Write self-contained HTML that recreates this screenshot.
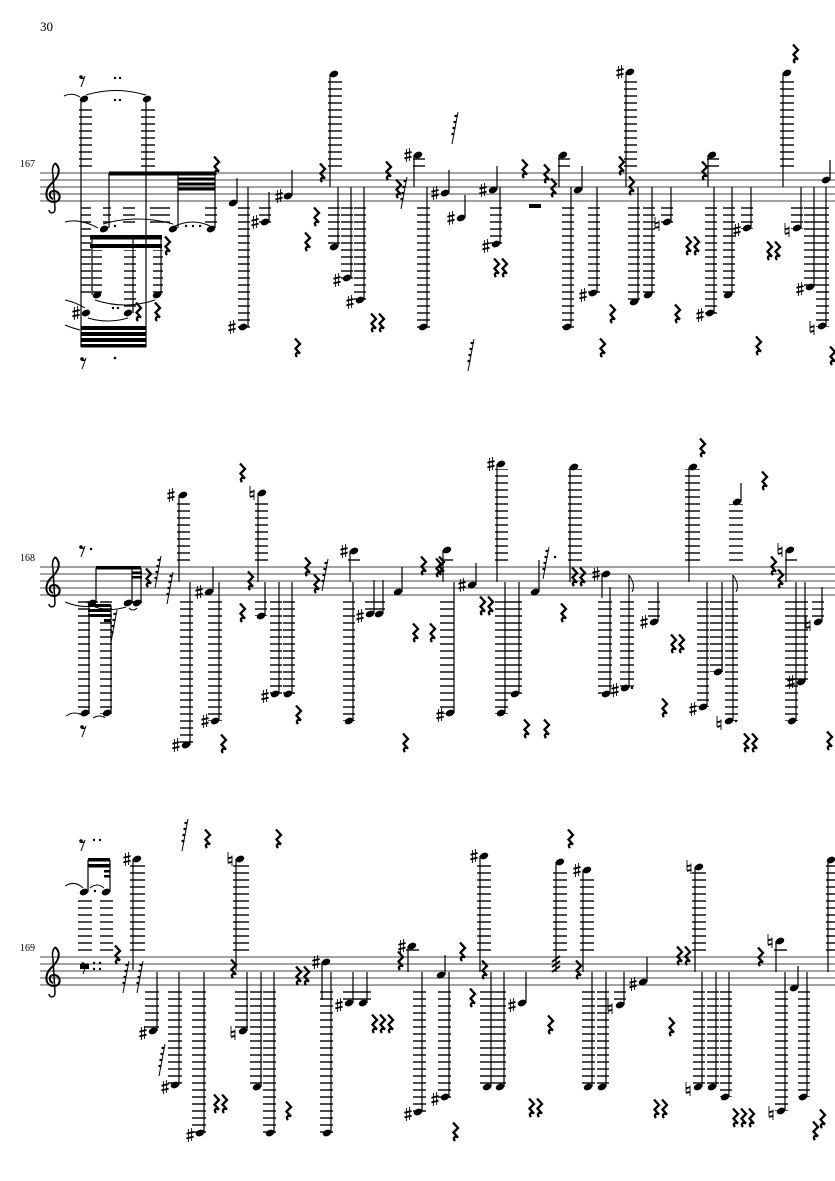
<!DOCTYPE html>
<html><head><meta charset="utf-8"><style>
html,body{margin:0;padding:0;background:#fff;}
svg{display:block;}
text{font-family:"Liberation Serif",serif;fill:#000;}
</style></head><body>
<svg width="835" height="1181" viewBox="0 0 835 1181" xmlns="http://www.w3.org/2000/svg">
<defs>
<pattern id="La" patternUnits="userSpaceOnUse" width="100" height="7" y="5"><rect x="0" y="-0.7" width="100" height="1.4" fill="#000"/><rect x="0" y="6.3" width="100" height="1.4" fill="#000"/></pattern>
<pattern id="Lb" patternUnits="userSpaceOnUse" width="100" height="7" y="0"><rect x="0" y="-0.7" width="100" height="1.4" fill="#000"/><rect x="0" y="6.3" width="100" height="1.4" fill="#000"/></pattern>
<g id="h"><ellipse cx="0" cy="0" rx="4.4" ry="3.1" transform="rotate(-22)" fill="#000"/></g>
<g id="s" stroke="#000" fill="none"><path d="M-1.6,-6V7M1.6,-7V6" stroke-width="0.9"/><path d="M-3.6,-1.2L3.6,-3M-3.6,3.4L3.6,1.6" stroke-width="1.8"/></g>
<g id="n" stroke="#000" fill="none"><path d="M-2,-7V3.5M2,-3.5V7" stroke-width="0.9"/><path d="M-2,-0.6L2,-1.8M-2,4L2,2.8" stroke-width="1.8"/></g>
<g id="r" stroke="#000" fill="none"><path d="M-2,-8.5L3,-3L-1.5,1.5L3,6.5C0,4.5 -2.5,7 0,10" stroke-width="2.3"/></g>
<g id="e" fill="#000"><circle cx="-1" cy="-3" r="1.8"/><path d="M-1,-1.5 Q2,-1 3,-4 L-1,7" stroke="#000" stroke-width="1" fill="none"/></g>
<g id="g" stroke="#000" fill="none"><path d="M3,-16L-3,16" stroke-width="1"/><path d="M2.5,-12h-3M1.5,-6h-3M0.5,0h-3M-0.5,6h-3" stroke-width="2.2"/></g>
<g id="c" stroke="#000" fill="none" stroke-width="2"><path d="M8,-8 C14,-3 13,5 4,13 C-3,20 -2,31 7,31 C15,31 14,20 7,20 C1,20 2,27 6,28"/><path d="M8,-8 C5,-4 5,0 6,4 L8,38 C8,43 2,43 2,39" stroke-width="1.5"/></g>
</defs>

<text x="40" y="31" font-size="13">30</text>
<text x="20" y="167" font-size="10">167</text>
<text x="20" y="561" font-size="10">168</text>
<text x="20" y="951" font-size="10">169</text>

<!-- staves -->
<g stroke="#6a6a6a" stroke-width="1.2">
<path d="M40,173H835M40,180H835M40,187H835M40,194H835M40,201H835"/>
<path d="M40,567H835M40,574H835M40,581H835M40,588H835M40,595H835"/>
<path d="M40,957H835M40,964H835M40,971H835M40,978H835M40,985H835"/>
</g>
<use href="#c" x="47" y="171"/><use href="#c" x="47" y="565"/><use href="#c" x="47" y="955"/>

<!-- ============ SYSTEM 1 ============ -->
<g fill="url(#La)">
<rect x="79" y="106" width="13" height="63"/><rect x="141" y="106" width="14" height="63"/>
<rect x="328" y="80" width="14" height="89"/><rect x="624" y="80" width="13" height="89"/><rect x="780" y="80" width="14" height="89"/>
<rect x="81" y="204" width="10" height="94"/><rect x="103" y="204" width="8" height="20"/><rect x="123" y="204" width="12" height="20"/><rect x="150" y="204" width="20" height="20"/><rect x="205" y="204" width="12" height="20"/>
<rect x="92" y="250" width="10" height="44"/><rect x="124" y="250" width="12" height="60"/><rect x="153" y="250" width="10" height="44"/>
<rect x="238" y="204" width="12" height="124"/><rect x="259" y="204" width="12" height="19"/>
<rect x="328" y="204" width="12" height="44"/><rect x="341" y="204" width="12" height="75"/><rect x="354" y="204" width="12" height="97"/>
<rect x="417" y="204" width="13" height="124"/><rect x="490" y="204" width="12" height="41"/>
<rect x="562" y="204" width="12" height="124"/><rect x="588" y="204" width="12" height="90"/>
<rect x="628" y="204" width="12" height="99"/><rect x="643" y="204" width="12" height="92"/><rect x="661" y="204" width="12" height="19"/>
<rect x="705" y="204" width="12" height="110"/><rect x="723" y="204" width="12" height="92"/><rect x="741" y="204" width="12" height="25"/>
<rect x="791" y="204" width="12" height="25"/><rect x="804" y="204" width="12" height="84"/><rect x="816" y="204" width="13" height="123"/>
<rect x="413" y="155" width="12" height="14"/><rect x="558" y="155" width="12" height="14"/><rect x="707" y="155" width="12" height="14"/>
</g>
<g stroke="#000" stroke-width="1.2">
<path d="M81,99V347M146,99V347M109,173V228M178,173V228M215,173V228M92,236V295M133,236V313M161,236V295"/>
<path d="M237,203V178M248,327V187M269,222V192M292,196V170M330,74V187M338,247V187M351,278V187M364,300V187"/>
<path d="M414,155V187M427,327V187M449,193V170M465,218V195M497,190V166M500,244V187M559,155V187M582,190V166M571,327V187M597,293V187"/>
<path d="M626,72V187M638,302V187M652,295V187M671,222V187M708,155V187M714,313V187M732,295V187M751,228V187M783,73V187M801,228V187M814,287V187M826,326V187M830,180V160"/>
</g>
<g fill="#000">
<rect x="109" y="171.5" width="106" height="4"/>
<rect x="178" y="177.5" width="37" height="3"/><rect x="178" y="182.5" width="37" height="3"/><rect x="178" y="187.5" width="37" height="3"/>
<rect x="90" y="235" width="72" height="4.5"/><rect x="90" y="244" width="72" height="4"/>
<rect x="81" y="326" width="65" height="4"/><rect x="81" y="332" width="65" height="4"/><rect x="81" y="338" width="65" height="4"/><rect x="81" y="344" width="65" height="3.5"/>
<rect x="529" y="204" width="12" height="4"/>
<circle cx="115" cy="358" r="1.3"/><circle cx="115" cy="226" r="1.2"/><circle cx="186" cy="226" r="1.2"/><circle cx="193" cy="226" r="1.2"/><circle cx="200" cy="226" r="1.2"/>
<circle cx="115" cy="78" r="1.2"/><circle cx="120" cy="78" r="1.2"/><circle cx="115" cy="100" r="1.2"/><circle cx="120" cy="100" r="1.2"/><circle cx="113" cy="308" r="1.2"/><circle cx="118" cy="308" r="1.2"/>
</g>
<g fill="none" stroke="#000" stroke-width="1">
<path d="M86,95 Q116,86 146,95"/><path d="M64,96 Q72,92 80,97"/><path d="M103,224 Q138,214 173,224"/><path d="M175,226 Q193,218 210,226"/><path d="M65,222 Q80,218 98,228"/>
<path d="M95,300 Q125,310 155,300"/><path d="M88,318 Q108,324 128,318"/><path d="M65,300 Q75,302 85,308"/><path d="M65,325 Q72,328 80,330"/>
</g>
<g>
<use href="#h" x="84" y="99"/><use href="#h" x="147" y="99"/><use href="#h" x="104" y="229"/><use href="#h" x="173" y="229"/><use href="#h" x="211" y="229"/>
<use href="#h" x="97" y="295"/><use href="#h" x="157" y="295"/><use href="#h" x="86" y="313"/><use href="#h" x="128" y="313"/>
<use href="#h" x="233" y="203"/><use href="#h" x="243" y="327"/><use href="#h" x="265" y="222"/><use href="#h" x="288" y="196"/>
<use href="#h" x="334" y="74"/><use href="#h" x="334" y="247"/><use href="#h" x="347" y="278"/><use href="#h" x="360" y="300"/>
<use href="#h" x="418" y="155"/><use href="#h" x="423" y="327"/><use href="#h" x="445" y="193"/><use href="#h" x="461" y="218"/><use href="#h" x="493" y="190"/><use href="#h" x="496" y="244"/>
<use href="#h" x="563" y="155"/><use href="#h" x="578" y="190"/><use href="#h" x="567" y="327"/><use href="#h" x="593" y="293"/>
<use href="#h" x="630" y="72"/><use href="#h" x="634" y="302"/><use href="#h" x="648" y="295"/><use href="#h" x="667" y="222"/>
<use href="#h" x="712" y="155"/><use href="#h" x="710" y="313"/><use href="#h" x="728" y="295"/><use href="#h" x="747" y="228"/>
<use href="#h" x="787" y="73"/><use href="#h" x="797" y="228"/><use href="#h" x="810" y="287"/><use href="#h" x="822" y="326"/><use href="#h" x="826" y="180"/>
<use href="#s" x="76" y="313"/><use href="#s" x="232" y="327"/><use href="#s" x="255" y="222"/><use href="#s" x="279" y="196"/><use href="#s" x="337" y="280"/><use href="#s" x="350" y="302"/>
<use href="#s" x="408" y="155"/><use href="#s" x="435" y="193"/><use href="#s" x="451" y="218"/><use href="#s" x="483" y="190"/><use href="#s" x="486" y="246"/><use href="#s" x="583" y="295"/>
<use href="#s" x="620" y="72"/><use href="#s" x="700" y="315"/><use href="#s" x="737" y="230"/><use href="#s" x="800" y="289"/>
<use href="#n" x="657" y="224"/><use href="#n" x="787" y="230"/><use href="#n" x="812" y="328"/>
<use href="#r" x="216" y="165"/><use href="#r" x="167" y="245"/><use href="#r" x="157" y="311"/><use href="#r" x="138" y="311"/>
<use href="#r" x="322" y="172"/><use href="#r" x="316" y="216"/><use href="#r" x="307" y="241"/><use href="#r" x="297" y="347"/><use href="#r" x="388" y="170"/><use href="#r" x="398" y="188"/>
<use href="#r" x="524" y="168"/><use href="#r" x="546" y="173"/><use href="#r" x="553" y="187"/><use href="#r" x="612" y="313"/><use href="#r" x="602" y="347"/><use href="#r" x="621" y="165"/><use href="#r" x="631" y="185"/>
<use href="#r" x="677" y="313"/><use href="#r" x="704" y="170"/><use href="#r" x="758" y="345"/><use href="#r" x="795" y="53"/><use href="#r" x="832" y="355"/>
<use href="#r" x="373" y="322"/><use href="#r" x="381" y="322"/><use href="#r" x="496" y="267"/><use href="#r" x="504" y="267"/><use href="#r" x="688" y="245"/><use href="#r" x="696" y="245"/><use href="#r" x="769" y="250"/><use href="#r" x="777" y="250"/>
<use href="#e" x="82" y="80"/><use href="#e" x="83" y="362"/>
<use href="#g" x="455" y="128"/><use href="#g" x="471" y="355"/><use href="#g" x="404" y="193"/>
</g>

<!-- ============ SYSTEM 2 ============ -->
<g fill="url(#Lb)">
<rect x="177" y="500" width="13" height="62"/><rect x="255" y="500" width="13" height="62"/><rect x="495" y="469" width="13" height="93"/><rect x="568" y="469" width="14" height="93"/><rect x="685" y="469" width="15" height="93"/><rect x="729" y="504" width="14" height="58"/>
<rect x="348" y="555" width="12" height="7"/><rect x="441" y="555" width="12" height="7"/><rect x="785" y="555" width="12" height="7"/>
<rect x="78" y="598" width="12" height="116"/><rect x="100" y="598" width="12" height="116"/><rect x="86" y="598" width="12" height="7"/><rect x="124" y="598" width="18" height="7"/>
<rect x="180" y="598" width="13" height="147"/><rect x="208" y="598" width="14" height="123"/><rect x="255" y="598" width="12" height="18"/><rect x="270" y="598" width="12" height="96"/><rect x="283" y="598" width="12" height="96"/>
<rect x="343" y="598" width="12" height="123"/><rect x="365" y="598" width="20" height="16"/>
<rect x="440" y="598" width="14" height="116"/><rect x="495" y="598" width="13" height="116"/><rect x="508" y="598" width="14" height="96"/>
<rect x="598" y="598" width="14" height="96"/><rect x="620" y="598" width="14" height="90"/><rect x="648" y="598" width="12" height="24"/>
<rect x="697" y="598" width="12" height="109"/><rect x="710" y="598" width="13" height="74"/><rect x="725" y="598" width="13" height="123"/>
<rect x="785" y="598" width="13" height="123"/><rect x="797" y="598" width="11" height="84"/><rect x="812" y="598" width="12" height="24"/>
</g>
<g stroke="#000" stroke-width="1.2">
<path d="M96,603V568M132,603V568M141,603V568M89,713V605M111,713V605"/>
<path d="M179,495V582M190,745V582M213,592V567M219,721V582M258,493V582M265,616V582M279,694V582M292,694V582"/>
<path d="M350,551V582M353,721V582M374,614V580M383,614V580M402,592V567M443,550V582M454,713V582M476,585V563"/>
<path d="M497,464V582M505,713V582M519,694V582M539,592V560M570,467V582M602,574V598M610,694V587M629,688V575M658,622V582"/>
<path d="M689,467V582M707,707V582M722,672V582M733,721V575M741,502V483M786,550V582M796,721V582M805,682V582M822,622V587"/>
</g>
<g fill="#000">
<rect x="96" y="566" width="45" height="3.5"/><rect x="132" y="571.5" width="10" height="2.5"/><rect x="132" y="576" width="10" height="2.5"/>
<rect x="88" y="604" width="23" height="3"/><rect x="88" y="609" width="23" height="3"/><rect x="88" y="614" width="23" height="3"/><rect x="104" y="619" width="7" height="3"/>
<circle cx="91" cy="549" r="1.2"/><circle cx="632" cy="688" r="1.2"/><circle cx="736" cy="721" r="1.2"/><circle cx="555" cy="557" r="1.2"/>
</g>
<g fill="none" stroke="#000" stroke-width="1">
<path d="M65,602 Q80,608 92,606"/><path d="M95,607 Q110,612 126,607"/><path d="M129,608 Q133,612 137,608"/><path d="M66,716 Q75,710 83,716"/><path d="M93,718 Q100,714 105,718"/>
<path d="M629,575 Q636,585 632,592M733,575 Q740,585 736,592" />
</g>
<g>
<use href="#h" x="92" y="603"/><use href="#h" x="128" y="603"/><use href="#h" x="137" y="603"/><use href="#h" x="85" y="713"/><use href="#h" x="107" y="713"/>
<use href="#h" x="183" y="495"/><use href="#h" x="186" y="745"/><use href="#h" x="209" y="592"/><use href="#h" x="215" y="721"/><use href="#h" x="262" y="493"/><use href="#h" x="261" y="616"/><use href="#h" x="275" y="694"/><use href="#h" x="288" y="694"/>
<use href="#h" x="354" y="551"/><use href="#h" x="349" y="721"/><use href="#h" x="370" y="614"/><use href="#h" x="379" y="614"/><use href="#h" x="398" y="592"/>
<use href="#h" x="447" y="550"/><use href="#h" x="450" y="713"/><use href="#h" x="472" y="585"/><use href="#h" x="501" y="464"/><use href="#h" x="501" y="713"/><use href="#h" x="515" y="694"/><use href="#h" x="535" y="592"/>
<use href="#h" x="574" y="467"/><use href="#h" x="606" y="574"/><use href="#h" x="606" y="694"/><use href="#h" x="625" y="688"/><use href="#h" x="654" y="622"/>
<use href="#h" x="693" y="467"/><use href="#h" x="703" y="707"/><use href="#h" x="718" y="672"/><use href="#h" x="729" y="721"/><use href="#h" x="737" y="502"/>
<use href="#h" x="790" y="550"/><use href="#h" x="792" y="721"/><use href="#h" x="801" y="682"/><use href="#h" x="818" y="622"/>
<use href="#s" x="171" y="495"/><use href="#s" x="176" y="745"/><use href="#s" x="199" y="592"/><use href="#s" x="205" y="721"/><use href="#s" x="265" y="696"/><use href="#s" x="344" y="551"/><use href="#s" x="360" y="616"/>
<use href="#s" x="440" y="715"/><use href="#s" x="462" y="585"/><use href="#s" x="491" y="464"/><use href="#s" x="596" y="574"/><use href="#s" x="615" y="690"/><use href="#s" x="644" y="622"/><use href="#s" x="693" y="709"/><use href="#s" x="791" y="682"/>
<use href="#n" x="252" y="493"/><use href="#n" x="719" y="723"/><use href="#n" x="780" y="550"/><use href="#n" x="808" y="624"/>
<use href="#e" x="82" y="550"/><use href="#e" x="83" y="730"/>
<use href="#r" x="148" y="577"/><use href="#r" x="242" y="472"/><use href="#r" x="242" y="612"/><use href="#r" x="223" y="743"/><use href="#r" x="250" y="580"/><use href="#r" x="298" y="714"/><use href="#r" x="307" y="566"/><use href="#r" x="316" y="583"/>
<use href="#r" x="415" y="632"/><use href="#r" x="432" y="632"/><use href="#r" x="405" y="742"/><use href="#r" x="423" y="565"/><use href="#r" x="438" y="567"/>
<use href="#r" x="441" y="565"/><use href="#r" x="482" y="605"/><use href="#r" x="490" y="605"/><use href="#r" x="563" y="612"/><use href="#r" x="526" y="728"/><use href="#r" x="546" y="728"/>
<use href="#r" x="574" y="576"/><use href="#r" x="582" y="576"/><use href="#r" x="673" y="643"/><use href="#r" x="681" y="643"/><use href="#r" x="664" y="707"/><use href="#r" x="702" y="447"/>
<use href="#r" x="746" y="742"/><use href="#r" x="754" y="742"/><use href="#r" x="764" y="480"/><use href="#r" x="773" y="565"/><use href="#r" x="780" y="578"/><use href="#r" x="829" y="740"/>
<use href="#g" x="158" y="572"/><use href="#g" x="170" y="588"/><use href="#g" x="114" y="626"/><use href="#g" x="325" y="575"/><use href="#g" x="546" y="563"/>
</g>

<!-- ============ SYSTEM 3 ============ -->
<g fill="url(#La)">
<rect x="78" y="898" width="14" height="55"/><rect x="100" y="898" width="13" height="55"/><rect x="130" y="863" width="15" height="90"/><rect x="233" y="863" width="16" height="90"/>
<rect x="477" y="861" width="14" height="92"/><rect x="553" y="867" width="14" height="86"/><rect x="580" y="874" width="14" height="79"/><rect x="692" y="872" width="14" height="81"/><rect x="826" y="863" width="9" height="90"/>
<rect x="406" y="947" width="13" height="6"/><rect x="774" y="947" width="13" height="6"/>
<rect x="145" y="988" width="14" height="43"/><rect x="168" y="988" width="14" height="97"/><rect x="192" y="988" width="14" height="145"/>
<rect x="235" y="988" width="13" height="43"/><rect x="250" y="988" width="12" height="99"/><rect x="263" y="988" width="13" height="145"/><rect x="320" y="988" width="13" height="145"/><rect x="343" y="988" width="28" height="15"/>
<rect x="413" y="988" width="13" height="125"/><rect x="438" y="988" width="13" height="110"/><rect x="480" y="988" width="13" height="99"/><rect x="493" y="988" width="13" height="99"/>
<rect x="582" y="988" width="13" height="99"/><rect x="597" y="988" width="12" height="99"/><rect x="614" y="988" width="12" height="17"/>
<rect x="693" y="988" width="12" height="99"/><rect x="707" y="988" width="12" height="99"/><rect x="720" y="988" width="12" height="109"/>
<rect x="775" y="988" width="13" height="123"/><rect x="798" y="988" width="12" height="109"/>
</g>
<g stroke="#000" stroke-width="1.2">
<path d="M88,892V860M110,892V860M133,859V970M157,1031V972M179,1085V972M204,1133V972M236,859V970M247,1031V972M261,1087V972M274,1133V972"/>
<path d="M322,962V1000M331,1133V972M353,1003V972M367,1003V972M408,946V972M422,1112V972M445,975V955M449,1097V972M480,856V972M491,1087V972M504,1087V972"/>
<path d="M526,1003V972M556,862V972M583,870V972M592,1087V972M606,1087V972M624,1005V972M647,982V957M695,867V972M702,1087V972M716,1087V972M729,1097V972"/>
<path d="M776,941V972M785,1111V972M798,988V966M807,1097V972M828,860V972"/>
<path d="M552,962L560,956M552,967L560,961M552,972L560,966" stroke-width="2"/>
</g>
<g fill="#000">
<rect x="88" y="858" width="22" height="3.5"/><rect x="88" y="864" width="22" height="3.5"/><rect x="104" y="870" width="6" height="2.5"/><rect x="104" y="875" width="6" height="2.5"/>
<rect x="80" y="964" width="9" height="5"/>
<circle cx="94" cy="840" r="1.2"/><circle cx="100" cy="840" r="1.2"/><circle cx="94" cy="963" r="1.2"/><circle cx="100" cy="963" r="1.2"/><circle cx="94" cy="969" r="1.2"/><circle cx="100" cy="969" r="1.2"/><circle cx="95" cy="891" r="1.2"/>
</g>
<g fill="none" stroke="#000" stroke-width="1">
<path d="M65,886 Q75,880 83,888"/><path d="M90,888 Q97,882 104,888"/>
</g>
<g>
<use href="#h" x="84" y="892"/><use href="#h" x="106" y="892"/><use href="#h" x="137" y="859"/><use href="#h" x="153" y="1031"/><use href="#h" x="175" y="1085"/><use href="#h" x="200" y="1133"/>
<use href="#h" x="240" y="859"/><use href="#h" x="243" y="1031"/><use href="#h" x="257" y="1087"/><use href="#h" x="270" y="1133"/><use href="#h" x="326" y="962"/><use href="#h" x="327" y="1133"/><use href="#h" x="349" y="1003"/><use href="#h" x="363" y="1003"/>
<use href="#h" x="412" y="946"/><use href="#h" x="418" y="1112"/><use href="#h" x="441" y="975"/><use href="#h" x="445" y="1097"/><use href="#h" x="484" y="856"/><use href="#h" x="487" y="1087"/><use href="#h" x="500" y="1087"/><use href="#h" x="522" y="1003"/>
<use href="#h" x="560" y="862"/><use href="#h" x="587" y="870"/><use href="#h" x="588" y="1087"/><use href="#h" x="602" y="1087"/><use href="#h" x="620" y="1005"/><use href="#h" x="643" y="982"/>
<use href="#h" x="699" y="867"/><use href="#h" x="698" y="1087"/><use href="#h" x="712" y="1087"/><use href="#h" x="725" y="1097"/><use href="#h" x="780" y="941"/><use href="#h" x="781" y="1111"/><use href="#h" x="794" y="988"/><use href="#h" x="803" y="1097"/><use href="#h" x="831" y="860"/>
<use href="#s" x="127" y="859"/><use href="#s" x="143" y="1033"/><use href="#s" x="165" y="1087"/><use href="#s" x="190" y="1135"/><use href="#s" x="316" y="962"/><use href="#s" x="339" y="1005"/><use href="#s" x="402" y="946"/><use href="#s" x="408" y="1114"/>
<use href="#s" x="435" y="1099"/><use href="#s" x="474" y="856"/><use href="#s" x="512" y="1005"/><use href="#s" x="577" y="870"/><use href="#s" x="633" y="984"/>
<use href="#n" x="230" y="859"/><use href="#n" x="233" y="1033"/><use href="#n" x="610" y="1007"/><use href="#n" x="689" y="867"/><use href="#n" x="688" y="1089"/><use href="#n" x="770" y="941"/><use href="#n" x="771" y="1113"/>
<use href="#e" x="82" y="844"/><use href="#e" x="84" y="967"/>
<use href="#r" x="117" y="954"/><use href="#r" x="207" y="838"/><use href="#r" x="278" y="838"/><use href="#r" x="233" y="968"/><use href="#r" x="216" y="1103"/><use href="#r" x="224" y="1103"/><use href="#r" x="288" y="1110"/>
<use href="#r" x="298" y="975"/><use href="#r" x="306" y="975"/><use href="#r" x="374" y="1023"/><use href="#r" x="382" y="1023"/><use href="#r" x="390" y="1023"/><use href="#r" x="400" y="960"/>
<use href="#r" x="462" y="951"/><use href="#r" x="472" y="997"/><use href="#r" x="455" y="1131"/><use href="#r" x="484" y="969"/><use href="#r" x="531" y="1107"/><use href="#r" x="539" y="1107"/><use href="#r" x="550" y="1024"/><use href="#r" x="570" y="838"/><use href="#r" x="578" y="969"/>
<use href="#r" x="656" y="1108"/><use href="#r" x="664" y="1108"/><use href="#r" x="671" y="1026"/><use href="#r" x="679" y="955"/><use href="#r" x="687" y="955"/><use href="#r" x="735" y="1117"/><use href="#r" x="743" y="1117"/><use href="#r" x="751" y="1117"/>
<use href="#r" x="760" y="956"/><use href="#r" x="815" y="1130"/><use href="#r" x="822" y="1118"/>
<use href="#g" x="126" y="977"/><use href="#g" x="140" y="977"/><use href="#g" x="185" y="835"/><use href="#g" x="162" y="1060"/>
</g>
</svg>
</body></html>
